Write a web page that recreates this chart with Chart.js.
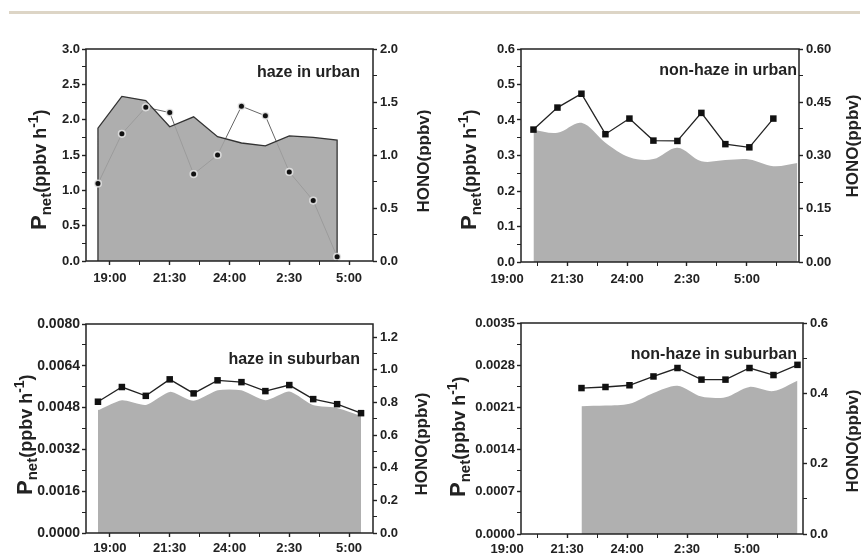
<!DOCTYPE html>
<html>
<head>
<meta charset="utf-8">
<script src="https://cdn.jsdelivr.net/npm/chart.js@4.4.1/dist/chart.umd.min.js"></script>
<style>
  body { margin: 0; background: #fff; }
  #page { position: relative; width: 862px; height: 559px; overflow: hidden; background: #fff; }
  .rule { position: absolute; left: 9px; top: 11px; width: 851px; height: 3px; background: #ddd5c6; }
  .panel { position: absolute; }
  .panel canvas { display: block; }
</style>
</head>
<body>
<div id="page">
  <div class="rule"></div>
  <div class="panel" style="left:0;top:30px"><canvas id="c1" width="431" height="270"></canvas></div>
  <div class="panel" style="left:431px;top:30px"><canvas id="c2" width="431" height="270"></canvas></div>
  <div class="panel" style="left:0;top:300px"><canvas id="c3" width="431" height="259"></canvas></div>
  <div class="panel" style="left:431px;top:300px"><canvas id="c4" width="431" height="259"></canvas></div>
</div>
<script>
// 공통 축 라벨
const timeLabels = ['19:00', '21:30', '24:00', '2:30', '5:00'];
const pnetTitleParts = ['P', 'net', '(ppbv h', '-1', ')'];
const honoTitle = 'HONO(ppbv)';

// haze in urban
const hazeUrbanName = 'haze in urban';
const hazeUrbanHours = [18.5, 19.5, 20.5, 21.5, 22.5, 23.5, 24.5, 25.5, 26.5, 27.5, 28.5];
const hazeUrbanPnet = [1.88, 2.33, 2.27, 1.90, 2.04, 1.76, 1.67, 1.63, 1.77, 1.75, 1.71];
const hazeUrbanHono = [0.73, 1.20, 1.45, 1.40, 0.82, 1.00, 1.46, 1.37, 0.84, 0.57, 0.04];
const hazeUrbanLeftTicks = ['0.0', '0.5', '1.0', '1.5', '2.0', '2.5', '3.0'];
const hazeUrbanRightTicks = ['0.0', '0.5', '1.0', '1.5', '2.0'];

// non-haze in urban
const nonHazeUrbanName = 'non-haze in urban';
const nonHazeUrbanHours = [20.1, 21.1, 22.1, 23.1, 24.1, 25.1, 26.1, 27.1, 28.1, 29.1, 30.1, 31.1];
const nonHazeUrbanPnet = [0.372, 0.364, 0.392, 0.336, 0.295, 0.290, 0.322, 0.284, 0.287, 0.289, 0.270, 0.279];
const nonHazeUrbanHono = [0.373, 0.435, 0.474, 0.360, 0.404, 0.342, 0.341, 0.420, 0.332, 0.323, 0.404];
const nonHazeUrbanLeftTicks = ['0.0', '0.1', '0.2', '0.3', '0.4', '0.5', '0.6'];
const nonHazeUrbanRightTicks = ['0.00', '0.15', '0.30', '0.45', '0.60'];

// haze in suburban
const hazeSuburbName = 'haze in suburban';
const hazeSuburbHours = [18.5, 19.5, 20.5, 21.5, 22.5, 23.5, 24.5, 25.5, 26.5, 27.5, 28.5, 29.5];
const hazeSuburbPnet = [0.00474, 0.00512, 0.00494, 0.00544, 0.00510, 0.00550, 0.00550, 0.00512, 0.00545, 0.00494, 0.00482, 0.00452];
const hazeSuburbHono = [0.804, 0.894, 0.840, 0.941, 0.855, 0.935, 0.924, 0.869, 0.906, 0.820, 0.789, 0.734];
const hazeSuburbLeftTicks = ['0.0000', '0.0016', '0.0032', '0.0048', '0.0064', '0.0080'];
const hazeSuburbRightTicks = ['0.0', '0.2', '0.4', '0.6', '0.8', '1.0', '1.2'];

// non-haze in suburban
const nonHazeSuburbName = 'non-haze in suburban';
const nonHazeSuburbHours = [22.1, 23.1, 24.1, 25.1, 26.1, 27.1, 28.1, 29.1, 30.1, 31.1];
const nonHazeSuburbPnet = [0.00212, 0.00213, 0.00216, 0.00234, 0.00246, 0.00228, 0.00227, 0.00244, 0.00237, 0.00254];
const nonHazeSuburbHono = [0.415, 0.418, 0.423, 0.448, 0.472, 0.439, 0.439, 0.472, 0.452, 0.481];
const nonHazeSuburbLeftTicks = ['0.0000', '0.0007', '0.0014', '0.0021', '0.0028', '0.0035'];
const nonHazeSuburbRightTicks = ['0.0', '0.2', '0.4', '0.6'];

const FONT = "'Liberation Sans', Arial, sans-serif";
const INK = '#222';
const AREA = '#b0b0b0';

Chart.defaults.font.family = FONT;
Chart.defaults.font.weight = 'bold';
Chart.defaults.font.size = 13;
Chart.defaults.color = INK;
Chart.defaults.animation = false;

function clockToHour(s) {
  const [h, m] = s.split(':').map(Number);
  return (h < 12 ? h + 24 : h) + m / 60;
}

// 라벨 있는 눈금 + 사이 눈금
function withMinors(major, min, max) {
  const step = major[1].value - major[0].value;
  const out = major.slice();
  major.forEach(t => {
    const m = t.value + step / 2;
    if (m <= max + 1e-9) out.push({ value: m, label: '' });
  });
  const m0 = major[0].value - step / 2;
  if (m0 >= min - 1e-9) out.push({ value: m0, label: '' });
  return out.sort((a, b) => a.value - b.value);
}

function makeScale(list, o) {
  return {
    type: 'linear',
    position: o.position,
    min: o.min,
    max: o.max,
    afterBuildTicks: s => { s.ticks = list.map(t => ({ value: t.value })); },
    afterFit: s => { if (o.width != null) s.width = o.width; if (o.height != null) s.height = o.height; },
    grid: {
      display: true,
      drawOnChartArea: false,
      drawTicks: true,
      tickLength: 4,
      tickWidth: c => (list[c.index] && list[c.index].label) ? 1.4 : 1,
      tickColor: c => (c.tick && (c.tick.value < o.min - 1e-9)) ? 'rgba(0,0,0,0)' : INK
    },
    border: { display: false },
    ticks: {
      autoSkip: false,
      maxRotation: 0,
      minRotation: 0,
      padding: o.padding,
      color: INK,
      font: { size: o.fontSize || 13, weight: 'bold' },
      callback: (v, i) => list[i] ? list[i].label : ''
    }
  };
}

function decor(p) {
  return {
    id: 'decor' + p.id,
    afterDraw(chart) {
      const ctx = chart.ctx;
      const a = chart.chartArea;
      ctx.save();
      // 테두리
      ctx.strokeStyle = INK;
      ctx.lineWidth = 1.5;
      ctx.strokeRect(a.left, a.top, a.right - a.left, a.bottom - a.top);
      // 패널 이름
      ctx.fillStyle = INK;
      ctx.font = 'bold 16px ' + FONT;
      ctx.textAlign = 'right';
      ctx.textBaseline = 'middle';
      ctx.fillText(p.name, p.nameAt[0], p.nameAt[1]);
      // 왼쪽 축 제목
      const sizes = [22, 15, 18, 14, 18];
      const shifts = [0, 5, 0, -8, 0];
      ctx.save();
      ctx.translate(p.leftTitleAt[0], p.leftTitleAt[1]);
      ctx.rotate(-Math.PI / 2);
      ctx.textAlign = 'left';
      ctx.textBaseline = 'alphabetic';
      let cx = 0;
      pnetTitleParts.forEach((t, i) => {
        ctx.font = 'bold ' + sizes[i] + 'px ' + FONT;
        ctx.fillText(t, cx, shifts[i]);
        cx += ctx.measureText(t).width;
      });
      ctx.restore();
      // 오른쪽 축 제목
      ctx.save();
      ctx.translate(p.rightTitleAt[0], p.rightTitleAt[1]);
      ctx.rotate(-Math.PI / 2);
      ctx.textAlign = 'center';
      ctx.textBaseline = 'middle';
      ctx.font = 'bold 17px ' + FONT;
      ctx.fillText(honoTitle, 0, 0);
      ctx.restore();
      ctx.restore();
    }
  };
}

function pts(hours, vals) {
  return vals.map((v, i) => ({ x: hours[i], y: v }));
}

function buildPanel(p) {
  const xList = withMinors(timeLabels.map(l => ({ value: clockToHour(l), label: l })), p.xMin, p.xMax);
  const yList = withMinors(p.leftTicks.map(l => ({ value: parseFloat(l), label: l })), 0, p.yMax);
  const y1List = withMinors(p.rightTicks.map(l => ({ value: parseFloat(l), label: l })), 0, p.y1Max);

  let areaData = pts(p.hours, p.pnet);
  if (p.closedArea) {
    areaData = [{ x: p.hours[0], y: 0 }, ...areaData, { x: p.hours[p.pnet.length - 1], y: 0 }];
  }

  const datasets = [
    {
      data: areaData,
      yAxisID: 'y',
      fill: 'origin',
      backgroundColor: p.areaColor,
      borderColor: p.areaBorder,
      borderWidth: p.areaBorderWidth,
      pointRadius: 0,
      tension: p.tension,
      order: 1
    },
    {
      data: pts(p.hours, p.hono),
      yAxisID: 'y1',
      fill: false,
      showLine: true,
      borderColor: p.lineColor,
      borderWidth: p.lineWidth,
      pointRadius: p.dots ? 0 : 4.6,
      pointStyle: 'rect',
      pointBackgroundColor: '#111',
      pointBorderColor: '#111',
      pointBorderWidth: 0,
      order: p.dots ? 2 : 0
    }
  ];
  if (p.dots) {
    datasets.push({
      data: pts(p.hours, p.hono),
      yAxisID: 'y1',
      showLine: false,
      pointRadius: 3.3,
      pointStyle: 'circle',
      pointBackgroundColor: '#111',
      pointBorderColor: 'rgba(235,235,235,0.85)',
      pointBorderWidth: 1.6,
      order: 0
    });
  }

  return new Chart(document.getElementById(p.id), {
    type: 'line',
    data: { datasets },
    options: {
      responsive: false,
      animation: false,
      layout: { padding: { top: p.box.top, left: 0, right: 0, bottom: 0 } },
      plugins: { legend: { display: false }, tooltip: { enabled: false } },
      scales: {
        x: makeScale(xList, { position: 'bottom', min: p.xMin, max: p.xMax, height: p.box.bottom, padding: p.xPad }),
        y: makeScale(yList, { position: 'left', min: 0, max: p.yMax, width: p.box.left, padding: 2, fontSize: p.leftFont }),
        y1: makeScale(y1List, { position: 'right', min: 0, max: p.y1Max, width: p.box.right, padding: 3 })
      }
    },
    plugins: [decor(p)]
  });
}

const panels = [
  {
    id: 'c1', name: hazeUrbanName, hours: hazeUrbanHours, pnet: hazeUrbanPnet, hono: hazeUrbanHono,
    leftTicks: hazeUrbanLeftTicks, rightTicks: hazeUrbanRightTicks, yMax: 3.0, y1Max: 2.0,
    xMin: 18, xMax: 30, box: { left: 86, right: 58, top: 19, bottom: 39 }, xPad: 6,
    areaColor: 'rgba(163,163,163,0.88)', areaBorder: '#333', areaBorderWidth: 1.3, tension: 0, closedArea: true,
    lineColor: '#666', lineWidth: 1, dots: true,
    nameAt: [360, 43], leftTitleAt: [46, 200], rightTitleAt: [424, 131]
  },
  {
    id: 'c2', name: nonHazeUrbanName, hours: nonHazeUrbanHours, pnet: nonHazeUrbanPnet, hono: nonHazeUrbanHono,
    leftTicks: nonHazeUrbanLeftTicks, rightTicks: nonHazeUrbanRightTicks, yMax: 0.6, y1Max: 0.6,
    xMin: 19.58, xMax: 31.17, box: { left: 90, right: 63, top: 19, bottom: 38 }, xPad: 6,
    areaColor: AREA, areaBorder: 'rgba(0,0,0,0)', areaBorderWidth: 0, tension: 0.35,
    lineColor: INK, lineWidth: 1.3, dots: false,
    nameAt: [366, 41], leftTitleAt: [45, 200], rightTitleAt: [422, 116]
  },
  {
    id: 'c3', name: hazeSuburbName, hours: hazeSuburbHours, pnet: hazeSuburbPnet, hono: hazeSuburbHono,
    leftTicks: hazeSuburbLeftTicks, rightTicks: hazeSuburbRightTicks, yMax: 0.008, y1Max: 1.28, leftFont: 14,
    xMin: 18, xMax: 30, box: { left: 86, right: 58, top: 24, bottom: 26 }, xPad: 4,
    areaColor: AREA, areaBorder: '#fff', areaBorderWidth: 2, tension: 0.25,
    lineColor: INK, lineWidth: 1.3, dots: false,
    nameAt: [360, 60], leftTitleAt: [32, 195], rightTitleAt: [422, 144]
  },
  {
    id: 'c4', name: nonHazeSuburbName, hours: nonHazeSuburbHours, pnet: nonHazeSuburbPnet, hono: nonHazeSuburbHono,
    leftTicks: nonHazeSuburbLeftTicks, rightTicks: nonHazeSuburbRightTicks, yMax: 0.0035, y1Max: 0.6,
    xMin: 19.58, xMax: 31.33, box: { left: 90, right: 59, top: 23, bottom: 25 }, xPad: 4,
    areaColor: AREA, areaBorder: 'rgba(0,0,0,0)', areaBorderWidth: 0, tension: 0.3,
    lineColor: INK, lineWidth: 1.3, dots: false,
    nameAt: [366, 55], leftTitleAt: [34, 197], rightTitleAt: [422, 141]
  }
];

panels.forEach(buildPanel);
</script>
</body>
</html>
